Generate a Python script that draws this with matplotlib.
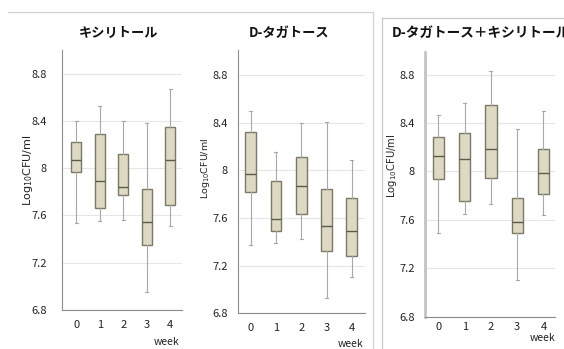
import matplotlib
matplotlib.use("Agg")
import matplotlib.pyplot as plt
from matplotlib.lines import Line2D

plt.rcParams['font.family'] = ['Noto Sans CJK JP', 'DejaVu Sans']

weeks = ["0", "1", "2", "3", "4"]
week_pos = [0, 1, 2, 3, 4]
y_ticks = [6.8, 7.2, 7.6, 8.0, 8.4, 8.8]
y_tick_labels = ["6.8", "7.2", "7.6", "8", "8.4", "8.8"]

titles = ["キシリトール", "D-タガトース", "D-タガトース＋キシリトール"]

# box statistics per panel: whisker low, q1, median, q3, whisker high
xyl_low = [7.535, 7.55, 7.558, 6.95, 7.507]
xyl_q1 = [7.97, 7.66, 7.77, 7.346, 7.685]
xyl_med = [8.073, 7.893, 7.845, 7.544, 8.068]
xyl_q3 = [8.225, 8.285, 8.118, 7.823, 8.35]
xyl_high = [8.40, 8.53, 8.40, 8.386, 8.67]

tag_low = [7.375, 7.386, 7.42, 6.93, 7.108]
tag_q1 = [7.817, 7.494, 7.63, 7.32, 7.283]
tag_med = [7.967, 7.594, 7.872, 7.536, 7.494]
tag_q3 = [8.325, 7.908, 8.114, 7.843, 7.766]
tag_high = [8.50, 8.15, 8.40, 8.408, 8.083]

mix_low = [7.495, 7.65, 7.73, 7.105, 7.64]
mix_q1 = [7.935, 7.76, 7.943, 7.495, 7.815]
mix_med = [8.127, 8.10, 8.19, 7.585, 7.985]
mix_q3 = [8.284, 8.317, 8.549, 7.78, 8.19]
mix_high = [8.463, 8.563, 8.833, 8.35, 8.50]

panels = [
    (xyl_low, xyl_q1, xyl_med, xyl_q3, xyl_high),
    (tag_low, tag_q1, tag_med, tag_q3, tag_high),
    (mix_low, mix_q1, mix_med, mix_q3, mix_high),
]

W, H = 564, 349
fig = plt.figure(figsize=(W / 100, H / 100), dpi=100)
fig.patch.set_facecolor('white')

def fx(px):
    return px / W

def fy(py):
    return 1 - py / H

# axes rectangles in pixels: left, right, top, bottom
rects = [(62, 182, 50, 310), (238.3, 365, 50, 313.3), (425, 555, 51.7, 316.7)]
xlims = [(-0.6, 4.5), (-0.49, 4.52), (-0.51, 4.44)]
ypads = [10.8, 7.6, 7.2]
xpads = [7, 7, 4]
ylim_top = [9.0, 9.01, 8.99]

box_face = '#ddd9c3'
box_edge = '#7b7867'
med_col = '#5c5a4b'
whisk_col = '#a8a8a8'

axes = []
for i, (lo, q1, med, q3, hi) in enumerate(panels):
    l, r, t, b = rects[i]
    ax = fig.add_axes([fx(l), fy(b), (r - l) / W, (b - t) / H])
    axes.append(ax)
    stats = []
    for k in range(len(weeks)):
        stats.append(dict(whislo=lo[k], q1=q1[k], med=med[k], q3=q3[k],
                          whishi=hi[k], fliers=[], label=weeks[k]))
    ax.bxp(stats, positions=week_pos, widths=0.43, capwidths=0.12,
           patch_artist=True, showfliers=False,
           boxprops=dict(facecolor=box_face, edgecolor=box_edge, linewidth=1.0),
           medianprops=dict(color=med_col, linewidth=1.0),
           whiskerprops=dict(color=whisk_col, linewidth=0.8),
           capprops=dict(color=whisk_col, linewidth=0.8))
    ax.set_xlim(*xlims[i])
    ax.set_ylim(6.8, ylim_top[i])
    ax.set_yticks(y_ticks)
    ax.set_yticklabels(y_tick_labels)
    ax.set_xticks(week_pos)
    ax.set_xticklabels(weeks)
    ax.yaxis.grid(True, color='#e6e6e6', linewidth=0.8)
    ax.set_axisbelow(True)
    ax.tick_params(axis='both', length=0, labelsize=8, colors='#222222')
    ax.tick_params(axis='y', pad=ypads[i])
    ax.tick_params(axis='x', pad=xpads[i])
    for s in ['top', 'right']:
        ax.spines[s].set_visible(False)
    ax.spines['bottom'].set_color('#8c8c8c')
    ax.spines['bottom'].set_linewidth(0.8)
    if i == 2:
        ax.spines['left'].set_color('#c4c4c4')
        ax.spines['left'].set_linewidth(2.0)
    else:
        ax.spines['left'].set_color('#8c8c8c')
        ax.spines['left'].set_linewidth(0.8)
    ax.set_facecolor('white')

# titles
fig.text(fx(118.5), fy(31.7), titles[0], ha='center', va='center',
         fontsize=9.5, fontweight='bold', color='#111111')
fig.text(fx(289), fy(33.3), titles[1], ha='center', va='center',
         fontsize=9.5, fontweight='bold', color='#111111')
fig.text(fx(391.5), fy(33.3), titles[2], ha='left', va='center',
         fontsize=9.8, fontweight='bold', color='#111111')

# y labels
ylab = r"Log$_{10}$CFU/ml"
fig.text(fx(28), fy(170), ylab, rotation=90, ha='center', va='center',
         fontsize=8, color='#222222', family='DejaVu Sans')
fig.text(fx(205), fy(168), ylab, rotation=90, ha='center', va='center',
         fontsize=6.8, color='#222222', family='DejaVu Sans')
fig.text(fx(391.7), fy(166), ylab, rotation=90, ha='center', va='center',
         fontsize=7.2, color='#222222', family='DejaVu Sans')

# week labels
fig.text(fx(167), fy(342), "week", ha='center', va='center', fontsize=7.5, color='#222222')
fig.text(fx(351), fy(344), "week", ha='center', va='center', fontsize=7.5, color='#222222')
fig.text(fx(543), fy(338), "week", ha='center', va='center', fontsize=7.5, color='#222222')

# panel frames
border = '#d4d4d4'
fig.add_artist(Line2D([fx(8), fx(373.3)], [fy(11.7), fy(11.7)], color=border, lw=0.9))
fig.add_artist(Line2D([fx(373.3), fx(373.3)], [fy(11.7), fy(349)], color=border, lw=0.9))
fig.add_artist(Line2D([fx(381.7), fx(564)], [fy(18), fy(18)], color='#c8c8c8', lw=0.9))
fig.add_artist(Line2D([fx(381.7), fx(381.7)], [fy(18), fy(349)], color='#c8c8c8', lw=0.9))

fig.savefig("out.png", dpi=100, facecolor='white')
